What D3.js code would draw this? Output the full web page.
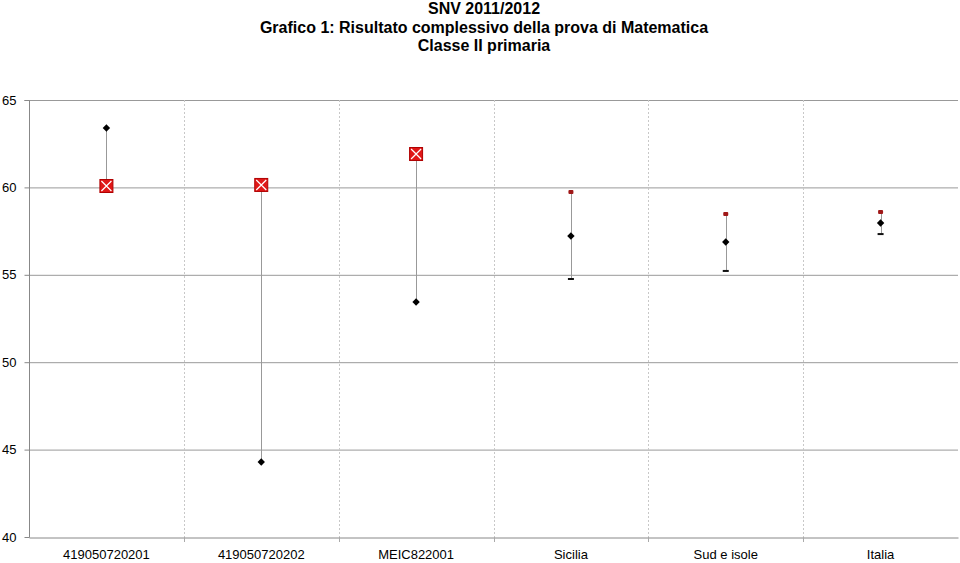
<!DOCTYPE html>
<html><head><meta charset="utf-8">
<script src="https://cdn.jsdelivr.net/npm/d3@7"></script>
<style>body{margin:0;background:#fff}svg{display:block;font-family:"Liberation Sans",Arial,sans-serif}</style>
</head><body><svg id="c" width="960" height="563"></svg>
<script>
const titles = ["SNV 2011/2012","Grafico 1: Risultato complessivo della prova di Matematica","Classe II primaria"];
const categories = ["419050720201","419050720202","MEIC822001","Sicilia","Sud e isole","Italia"];
const scoreValues = [60.08, 60.14, 61.91, null, null, null];
const meanValues = [63.4, 44.29, 53.44, 57.22, 56.88, 57.96];
const upperValues = [null, null, null, 59.74, 58.48, 58.59];
const lowerValues = [null, null, null, 54.76, 55.22, 57.33];
const yTicks = [40,45,50,55,60,65];

const svg = d3.select("#c");
const m = {l:29, r:958, t:100, b:537};
const x = d3.scaleBand().domain(categories).range([m.l, m.r]);
const y = d3.scaleLinear().domain([40,65]).range([m.b, m.t]);

svg.selectAll("text.title").data(titles).join("text")
  .attr("x",484).attr("y",(d,i)=>14+i*18.5).attr("text-anchor","middle")
  .attr("font-size",16).attr("font-weight","bold").attr("fill","#000").text(d=>d);

// horizontal grid
svg.append("g").selectAll("line").data(yTicks.filter(t=>t>40)).join("line")
  .attr("x1",m.l).attr("x2",m.r).attr("y1",d=>y(d)+0.5).attr("y2",d=>y(d)+0.5)
  .attr("stroke","#999").attr("stroke-width",1);
// vertical dashed separators
svg.append("g").selectAll("line").data(categories.slice(1)).join("line")
  .attr("x1",d=>Math.round(x(d))+0.5).attr("x2",d=>Math.round(x(d))+0.5)
  .attr("y1",m.t).attr("y2",m.b)
  .attr("stroke","#c8c8c8").attr("stroke-dasharray","2,2");

// y axis
const ya = svg.append("g").attr("transform",`translate(${m.l+0.5},0)`)
  .call(d3.axisLeft(y).tickValues(yTicks).tickSize(5).tickPadding(8));
ya.select(".domain").attr("stroke","#888").attr("d",`M-5,${m.t+0.5}H0V${m.b+0.5}`);
ya.selectAll(".tick line").attr("stroke","#888");
ya.selectAll("text").attr("font-size",13).attr("fill","#000").attr("font-family","Liberation Sans, Arial, sans-serif");

// x axis
const xa = svg.append("g").attr("transform",`translate(0,${m.b+0.5})`)
  .call(d3.axisBottom(x).tickSize(0).tickPadding(12));
xa.select(".domain").attr("stroke","#888");
xa.selectAll("text").attr("font-size",13).attr("fill","#000").attr("font-family","Liberation Sans, Arial, sans-serif");
svg.append("g").selectAll("line").data(categories.slice(1)).join("line")
  .attr("x1",d=>Math.round(x(d))+0.5).attr("x2",d=>Math.round(x(d))+0.5)
  .attr("y1",m.b).attr("y2",m.b+5).attr("stroke","#aaa");

const cx = d => x(d)+x.bandwidth()/2;
// high-low lines
const rows = categories.map((c,i)=>{
  const vals=[scoreValues[i],meanValues[i],upperValues[i],lowerValues[i]].filter(v=>v!=null);
  return {c, hi:d3.max(vals), lo:d3.min(vals), i};
});
svg.append("g").selectAll("line").data(rows).join("line")
  .attr("x1",d=>Math.round(cx(d.c))+0.5).attr("x2",d=>Math.round(cx(d.c))+0.5)
  .attr("y1",d=>y(d.hi)).attr("y2",d=>y(d.lo)).attr("stroke","#999").attr("stroke-width",1);

// lower dash
svg.append("g").selectAll("rect").data(categories.map((c,i)=>({c,v:lowerValues[i]})).filter(d=>d.v!=null)).join("rect")
  .attr("x",d=>cx(d.c)-3).attr("y",d=>y(d.v)-1).attr("width",6).attr("height",2).attr("fill","#111");
// upper marker
svg.append("g").selectAll("rect").data(categories.map((c,i)=>({c,v:upperValues[i]})).filter(d=>d.v!=null)).join("rect")
  .attr("x",d=>cx(d.c)-2.5).attr("y",d=>y(d.v)-2).attr("width",5).attr("height",4).attr("rx",1).attr("fill","#a01818");
// mean diamond
svg.append("g").selectAll("path").data(categories.map((c,i)=>({c,v:meanValues[i]}))).join("path")
  .attr("transform",d=>`translate(${cx(d.c)},${y(d.v)})`)
  .attr("d","M0,-3.7L3.7,0L0,3.7L-3.7,0Z").attr("fill","#000");
// score square with X
const sq = svg.append("g").selectAll("g").data(categories.map((c,i)=>({c,v:scoreValues[i]})).filter(d=>d.v!=null)).join("g")
  .attr("transform",d=>`translate(${cx(d.c)},${y(d.v)})`);
sq.append("rect").attr("x",-6.5).attr("y",-6.5).attr("width",13).attr("height",13)
  .attr("fill","#e01818").attr("stroke","#b00000").attr("stroke-width",1);
sq.append("path").attr("d","M-5,-5L5,5M5,-5L-5,5").attr("stroke","#fff").attr("stroke-width",1.2);
</script></body></html>
